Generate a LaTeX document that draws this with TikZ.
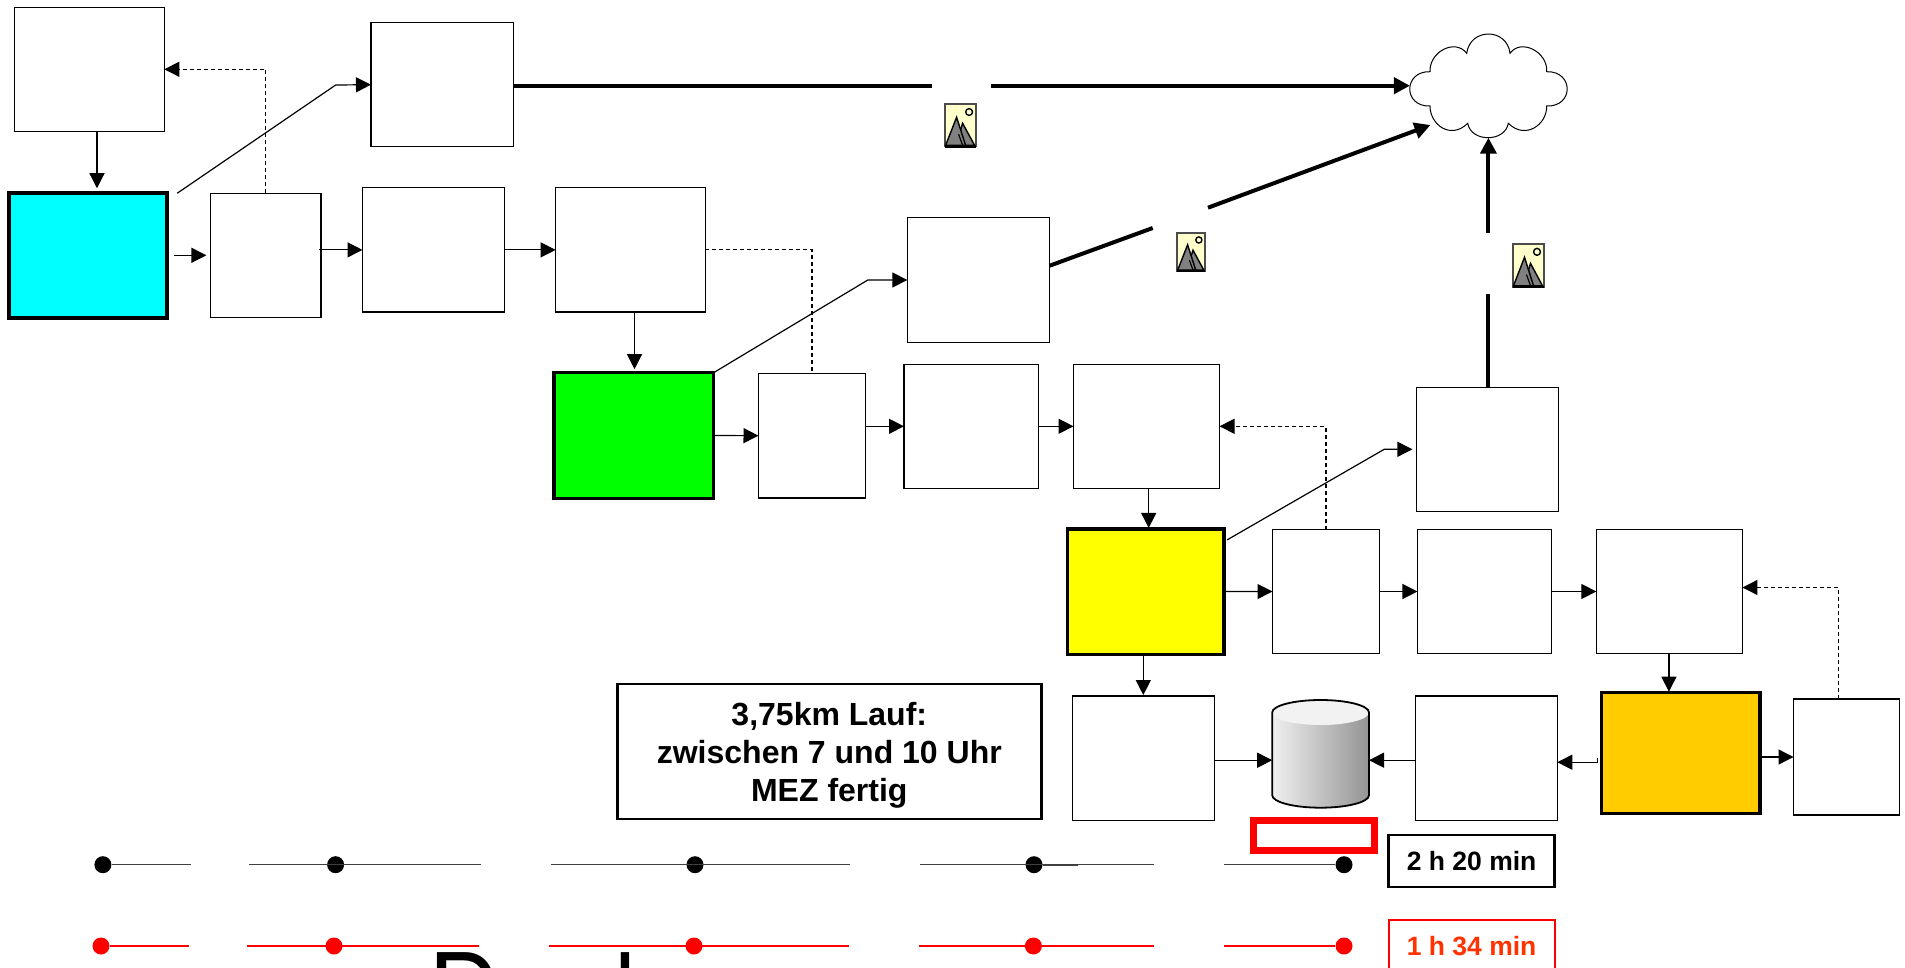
\documentclass[tikz,border=0pt]{standalone}
\usepackage{fontspec}
\setmainfont{Liberation Sans}
\newfontfamily\bigfont{TeX Gyre Heros}
\usetikzlibrary{arrows.meta, calc}
\definecolor{cphoto}{HTML}{FFFFCC}
\definecolor{ccyan}{HTML}{00FFFF}
\definecolor{cgreen}{HTML}{00FF00}
\definecolor{cyellow}{HTML}{FFFF00}
\definecolor{corange}{HTML}{FFCC00}
\definecolor{cred}{HTML}{FF0000}
\definecolor{credtext}{HTML}{FF3300}
\tikzset{
  every picture/.style={x=1pt, y=-1pt, line width=1.2pt},
  box/.style 2 args={draw=black, fill=white, minimum width=#1pt, minimum height=#2pt, inner sep=0pt, outer sep=0pt},
  phase/.style={draw=black, line width=3.5pt},
  flow/.style={-{Triangle[length=15pt, width=15pt]}, draw=black},
  back/.style={flow, dash pattern=on 4pt off 3pt},
  backline/.style={draw=black, dash pattern=on 4pt off 3pt},
  link/.style={-{Triangle[length=16pt, width=16pt]}, draw=black, line width=4pt},
  rawlink/.style={draw=black, line width=4pt},
  label/.style={draw=black, line width=2.5pt, fill=white, align=center, inner sep=0pt, outer sep=0pt, font=\bfseries},
  blackdot/.style={circle, fill=black, minimum size=17pt, inner sep=0pt},
  reddot/.style={circle, fill=cred, minimum size=17pt, inner sep=0pt},
  blackrun/.style={draw=black!75, line width=1.2pt},
  redrun/.style={draw=cred, line width=1.2pt},
  photo/.pic={
    \draw[fill=cphoto, draw=black!70, line width=2pt] (0,0) rectangle (31,42);
    \draw[fill=black!50, draw=black, line width=1.4pt] (18,19) -- (30,41) -- (11,41) -- cycle;
    \draw[fill=black!50, draw=black, line width=1.4pt] (12,13) -- (1,41) -- (21,41) -- cycle;
    \draw[line width=1.2pt] (14,30) -- (18,41);
    \draw[line width=1.4pt] (24.5,7.7) circle [radius=3.4pt];
    \draw[line width=2.5pt] (0,42) -- (31,42);
  },
}

\begin{document}
\begin{tikzpicture}
  \path[use as bounding box, clip] (0,0) rectangle (1905,968);
  % first stage
  \node[box={149.8}{124}] (topstart) at (89.4,69.3) {};
  \node[box={158}{124.5}, phase, fill=ccyan] (swim) at (88.2,255.5) {};
  \node[box={110.6}{124}] (swimout) at (265.7,255.3) {};
  \node[box={142.5}{124}] (swimtop) at (442.2,84.7) {};
  \node[box={142}{124.3}] (swimbox) at (433.5,249.9) {};
  \node[box={149.7}{124.3}] (bikein) at (630.5,249.9) {};
  % second stage
  \node[box={142.3}{124.6}] (biketop) at (978.5,280) {};
  \node[box={159.8}{125.6}, phase, fill=cgreen] (bike) at (633.7,435.5) {};
  \node[box={107}{124.7}] (bikeout) at (812,435.7) {};
  \node[box={134.6}{124}] (bikebox) at (971.3,426.3) {};
  \node[box={146}{124}] (runin) at (1146.5,426.3) {};
  % third stage
  \node[box={141.8}{124}] (runtop) at (1487.3,449.3) {};
  \node[box={156.6}{125.3}, phase, fill=cyellow] (run) at (1145.7,591.6) {};
  \node[box={106.8}{123.6}] (runout) at (1325.9,591.5) {};
  \node[box={134.1}{123.6}] (runbox) at (1484.5,591.5) {};
  \node[box={146.1}{123.6}] (endin) at (1669.4,591.5) {};
  % last row
  \node[box={141.9}{124.3}] (finishl) at (1143.3,758.2) {};
  \node[box={141.9}{124.3}] (finishr) at (1486.3,758.2) {};
  \node[box={158.4}{121.4}, phase, fill=corange] (goal) at (1680.8,753) {};
  \node[box={106}{116}] (goalout) at (1846.5,757) {};
  % cloud
  \node[minimum width=157.3pt, minimum height=103.7pt, inner sep=0pt, outer sep=0pt] (cloud) at (1488.6,85.9) {};
  \draw[line width=1pt, fill=white] (1430,71.7) .. controls (1429,52) and (1455,38) .. (1466.7,53.3)
    .. controls (1470,27.6) and (1507,27.6) .. (1510,53.3)
    .. controls (1521,38) and (1548,52) .. (1546.7,71.7)
    .. controls (1574,71) and (1574,107) .. (1546.7,106)
    .. controls (1547,125) and (1525,140) .. (1508.3,123.3)
    .. controls (1505,142.5) and (1471,142.5) .. (1467.7,123.3)
    .. controls (1451,140) and (1430,125) .. (1430,106)
    .. controls (1403,107) and (1403,71) .. (1430,71.7) -- cycle;
  % database
  \node[minimum width=96.8pt, minimum height=107.7pt, inner sep=0pt, outer sep=0pt] (store) at (1320.6,753.9) {};
  \shade[left color=black!6, right color=black!42] (1272.2,712.5) -- (1272.2,795.2)
    .. controls (1272.2,802.1) and (1293.9,807.7) .. (1320.6,807.7)
    .. controls (1347.3,807.7) and (1369,802.1) .. (1369,795.2) -- (1369,712.5)
    .. controls (1369,705.6) and (1347.3,700) .. (1320.6,700)
    .. controls (1293.9,700) and (1272.2,705.6) .. (1272.2,712.5) -- cycle;
  \fill[black!5] (1320.6,712.5) ellipse [x radius=48.4pt, y radius=12.5pt];
  \draw[line width=1.8pt] (1272.2,712.5) -- (1272.2,795.2)
    .. controls (1272.2,802.1) and (1293.9,807.7) .. (1320.6,807.7)
    .. controls (1347.3,807.7) and (1369,802.1) .. (1369,795.2) -- (1369,712.5)
    .. controls (1369,705.6) and (1347.3,700) .. (1320.6,700)
    .. controls (1293.9,700) and (1272.2,705.6) .. (1272.2,712.5) -- cycle;
  % labels
  \node[label, minimum width=424pt, minimum height=135pt, text depth=0pt] (note) at (829.3,751.5) {};
  \node[inner sep=0pt, align=center, font=\bfseries\fontsize{32}{38}\selectfont] (notetext) at (829.3,755) {3,75km Lauf:\\zwischen 7 und 10 Uhr\\MEZ fertig};
  \node[draw=cred, line width=7pt, minimum width=121pt, minimum height=30pt, inner sep=0pt, outer sep=0pt] (mark) at (1313.5,835.5) {};
  \node[label, minimum width=166pt, minimum height=52pt, font=\bfseries\fontsize{26.5}{30}\selectfont] (timeblack) at (1471.6,861) {\raisebox{-1pt}{2 h 20 min}};
  \node[label, draw=cred, line width=2pt, text=credtext, minimum width=166pt, minimum height=52pt, font=\bfseries\fontsize{26.5}{30}\selectfont] (timered) at (1471.6,945.7) {\raisebox{-2pt}{1 h 34 min}};
  \node[anchor=base west, inner sep=0pt, font=\bigfont\fontsize{100}{100}\selectfont] (title) at (428,1025.5) {D\hspace{113.3pt}l};
  % photos
  \pic at (944.6,104.3) {photo};
  \pic[xscale=0.9, yscale=0.905] at (1176.8,233) {photo};
  \pic[yscale=1.02] at (1512.5,244) {photo};
  % flow of the first stage
  \draw[flow, shorten >=5pt] ([xshift=7.6pt]topstart.south) -- ([xshift=7.6pt]topstart.south |- swim.north);
  \draw[flow, shorten <=7pt, shorten >=4pt] (swim.east |- swimout.west) -- (swimout.west);
  \draw[flow] ([xshift=-2pt]swimout.east |- swimbox.west) -- (swimbox.west);
  \draw[flow] (swimbox.east) -- (bikein.west);
  \draw[back] (swimout.north) |- (topstart.east);
  \coordinate (swimbend) at (335.7,85);
  \draw[flow] ([xshift=10pt]swim.north east) -- (swimbend) -- (swimtop.west);
  % flow of the second stage
  \draw[flow, shorten >=3.5pt] ([xshift=4pt]bikein.south) -- ([xshift=4pt]bikein.south |- bike.north);
  \draw[flow] (bike.east) -- (bikeout.west);
  \draw[flow] (bikeout.east |- bikebox.west) -- (bikebox.west);
  \draw[flow] (bikebox.east) -- (runin.west);
  \draw[backline] (bikein.east) -| (bikeout.north);
  \coordinate (bikebend) at (867.8,280);
  \draw[flow] (bike.north east) -- (bikebend) -- (biketop.west);
  % flow of the third stage
  \draw[flow, shorten >=1pt] ([xshift=2.2pt]runin.south) -- ([xshift=2.2pt]runin.south |- run.north);
  \draw[flow] (run.east) -- (runout.west);
  \draw[flow] (runout.east) -- (runbox.west);
  \draw[flow] (runbox.east) -- (endin.west);
  \draw[back] (runout.north) |- (runin.east);
  \coordinate (runbend) at (1384.2,449.3);
  \draw[flow, shorten >=4pt] ([xshift=3pt,yshift=-11pt]run.north east) -- (runbend) -- (runtop.west);
  % flow of the last row
  \draw[flow] (endin.south -| goal.north) ++(-11.9,0) -- ++(0,38.4);
  \draw[back] ([xshift=-8pt]goalout.north) |- ([yshift=4pt]endin.east);
  \draw[flow, shorten >=1pt] (finishl.north |- run.south) -- (finishl.north);
  \draw[flow] ([yshift=-2pt]finishl.east) -- ([yshift=-2pt]finishl.east -| store.west);
  \draw[flow] ([yshift=-2pt]finishr.west) -- ([yshift=-2pt]finishr.west -| store.east);
  \draw[flow] ([xshift=-4pt,yshift=-5pt]goal.west) |- ([yshift=-4pt]finishr.east);
  \draw[flow] (goal.east |- goalout.west) -- (goalout.west);
  % thick links to the cloud
  \coordinate (gapa) at (932,85.7);
  \coordinate (gapb) at (991,85.7);
  \draw[rawlink] ([yshift=-1pt]swimtop.east) -- (gapa);
  \draw[link] (gapb) -- (gapb -| cloud.west);
  \coordinate (gapc) at (1152.7,228);
  \coordinate (gapd) at (1208,207.7);
  \coordinate (cloudin) at (1430.5,125);
  \draw[rawlink] ([yshift=14.3pt]biketop.east) -- (gapc);
  \draw[link] (gapd) -- (cloudin);
  \coordinate (gape) at (1488.4,294);
  \coordinate (gapf) at (1488.4,232.7);
  \draw[rawlink] (gape |- runtop.north) -- (gape);
  \draw[link] (gapf) -- (gapf |- cloud.south);
  % black times
  \node[blackdot] (ba) at (102.9,864.7) {};
  \node[blackdot] (bb) at (335.6,864.7) {};
  \node[blackdot] (bc) at (695,864.7) {};
  \node[blackdot] (bd) at (1034,864.7) {};
  \node[blackdot] (be) at (1344,864.7) {};
  \coordinate (bar) at (191,864.7);
  \coordinate (bbl) at (249,864.7);
  \coordinate (bbr) at (481,864.7);
  \coordinate (bcl) at (551,864.7);
  \coordinate (bcr) at (850,864.7);
  \coordinate (bdl) at (920,864.7);
  \coordinate (bdm) at (1078,864.7);
  \coordinate (bdr) at (1154,864.7);
  \coordinate (bel) at (1224,864.7);
  \draw[blackrun] (ba) -- (bar);
  \draw[blackrun] (bbl) -- (bbr);
  \draw[blackrun] (bcl) -- (bcr);
  \draw[blackrun] (bdl) -- (bdr);
  \draw[blackrun, line width=2pt] (bd) -- (bdm);
  \draw[blackrun] (bel) -- (be);
  % red times
  \node[reddot] (ra) at (101,946) {};
  \node[reddot] (rb) at (334,946) {};
  \node[reddot] (rc) at (694,946) {};
  \node[reddot] (rd) at (1033.4,946) {};
  \node[reddot] (re) at (1344,946) {};
  \coordinate (rar) at (189,946);
  \coordinate (rbl) at (247,946);
  \coordinate (rbr) at (479,946);
  \coordinate (rcl) at (549,946);
  \coordinate (rcr) at (849,946);
  \coordinate (rdl) at (919,946);
  \coordinate (rdm) at (1078,946);
  \coordinate (rdr) at (1154,946);
  \coordinate (rel) at (1224,946);
  \draw[redrun] (ra) -- (rar);
  \draw[redrun] (rbl) -- (rbr);
  \draw[redrun] (rcl) -- (rcr);
  \draw[redrun] (rdl) -- (rdr);
  \draw[redrun, line width=2pt] (rd) -- (rdm);
  \draw[redrun] (rel) -- (re);
\end{tikzpicture}
\end{document}
